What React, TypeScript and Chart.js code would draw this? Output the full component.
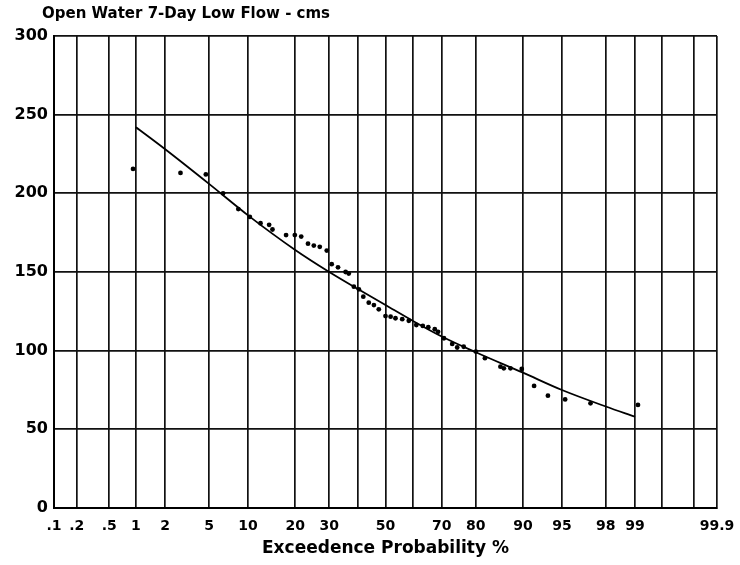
import React, { useEffect, useRef } from "react";
import { Chart, registerables } from "chart.js";

Chart.register(...registerables);

const chartTitle = "Open Water 7-Day Low Flow - cms";
const xAxisTitle = "Exceedence Probability %";

// probability grid (exceedence %) and their labels
const gridProbabilities = [0.1, 0.2, 0.5, 1, 2, 5, 10, 20, 30, 40, 50, 60, 70, 80, 90, 95, 98, 99, 99.5, 99.8, 99.9];
const gridLabels = [".1", ".2", ".5", "1", "2", "5", "10", "20", "30", "", "50", "", "70", "80", "90", "95", "98", "99", "", "", "99.9"];
const yTickValues = [0, 50, 100, 150, 200, 250, 300];

// observed annual 7-day low flows (plotting position %, flow cms)
const observedProbability = [
  0.93, 2.8, 4.7, 6.5, 8.5, 10.3, 12.2, 13.9, 14.6, 17.7, 19.9, 21.6, 23.5, 25.2, 27, 29.2,
  30.8, 32.9, 35.5, 36.6, 38.4, 40.2, 41.8, 43.8, 45.7, 47.5, 50, 51.9, 53.7, 56.2, 58.6,
  61.3, 63.6, 65.5, 67.7, 68.8, 70.7, 73.3, 74.8, 76.7, 80, 82.3, 85.8, 86.5, 87.8, 89.8,
  91.7, 93.5, 95.3, 97.2, 99.07,
];
const observedFlow = [
  215.5, 213, 212, 200, 190, 185, 181, 180, 177, 173.5, 173.5, 172.5, 168, 166.8, 166, 163.6,
  155, 153, 150, 149, 140.7, 139, 134.3, 130.5, 129, 126.3, 122, 121.6, 120.6, 120, 119,
  116.3, 115.7, 114.9, 113.6, 112, 107.9, 104.3, 102, 102.5, 99.4, 95.2, 89.8, 88.8, 88.8, 88.4,
  77.6, 71.4, 69, 66.5, 65.5,
];

// fitted frequency curve
const fittedProbability = [1, 2, 5, 10, 20, 30, 40, 50, 60, 70, 80, 90, 95, 98, 99];
const fittedFlow = [242, 228, 206, 186, 164, 150, 139, 129, 119, 109, 99, 86, 75, 64.5, 58];

// inverse standard normal CDF (probability-paper axis transform)
function probit(p: number): number {
  const a = [-3.969683028665376e1, 2.209460984245205e2, -2.759285104469687e2, 1.38357751867269e2, -3.066479806614716e1, 2.506628277459239];
  const b = [-5.447609879822406e1, 1.615858368580409e2, -1.556989798598866e2, 6.680131188771972e1, -1.328068155288572e1];
  const c = [-7.784894002430293e-3, -3.223964580411365e-1, -2.400758277161838, -2.549732539343734, 4.374664141464968, 2.938163982698783];
  const d = [7.784695709041462e-3, 3.224671290700398e-1, 2.445134137142996, 3.754408661907416];
  const pl = 0.02425;
  if (p < pl) {
    const q = Math.sqrt(-2 * Math.log(p));
    return (((((c[0] * q + c[1]) * q + c[2]) * q + c[3]) * q + c[4]) * q + c[5]) / ((((d[0] * q + d[1]) * q + d[2]) * q + d[3]) * q + 1);
  }
  if (p <= 1 - pl) {
    const q = p - 0.5;
    const r = q * q;
    return ((((((a[0] * r + a[1]) * r + a[2]) * r + a[3]) * r + a[4]) * r + a[5]) * q) / (((((b[0] * r + b[1]) * r + b[2]) * r + b[3]) * r + b[4]) * r + 1);
  }
  const q = Math.sqrt(-2 * Math.log(1 - p));
  return -(((((c[0] * q + c[1]) * q + c[2]) * q + c[3]) * q + c[4]) * q + c[5]) / ((((d[0] * q + d[1]) * q + d[2]) * q + d[3]) * q + 1);
}
const z = (pct: number) => probit(pct / 100);

const FONT = "'DejaVu Sans', Verdana, sans-serif";

const titlePlugin = {
  id: "leftTitle",
  afterDraw(chart: any) {
    const ctx = chart.ctx;
    ctx.save();
    ctx.font = `bold 15px ${FONT}`;
    ctx.fillStyle = "#000";
    ctx.textAlign = "left";
    ctx.textBaseline = "middle";
    ctx.fillText(chartTitle, 42, 14);
    ctx.restore();
  },
};

export default function App() {
  const canvasRef = useRef<HTMLCanvasElement | null>(null);

  useEffect(() => {
    if (!canvasRef.current) return;
    const chart = new Chart(canvasRef.current, {
      type: "scatter",
      data: {
        datasets: [
          {
            label: "Observed",
            data: observedProbability.map((p, i) => ({ x: z(p), y: observedFlow[i] })),
            showLine: false,
            pointRadius: 2.4,
            pointHoverRadius: 2.4,
            pointBackgroundColor: "#000",
            pointBorderWidth: 0,
            borderColor: "#000",
          },
          {
            label: "Fitted",
            data: fittedProbability.map((p, i) => ({ x: z(p), y: fittedFlow[i] })),
            showLine: true,
            pointRadius: 0,
            borderColor: "#000",
            borderWidth: 1.8,
            cubicInterpolationMode: "monotone",
          } as any,
        ],
      },
      options: {
        animation: false,
        responsive: true,
        maintainAspectRatio: false,
        layout: { padding: { top: 36, right: 23, bottom: 0, left: 0 } },
        plugins: {
          legend: { display: false },
          tooltip: { enabled: false },
          title: { display: false },
        },
        scales: {
          x: {
            type: "linear",
            min: z(0.1),
            max: z(99.9),
            afterBuildTicks: (scale: any) => {
              scale.ticks = gridProbabilities.map((p) => ({ value: z(p) }));
            },
            afterFit: (scale: any) => {
              scale.height = 57;
              scale.paddingLeft = 0;
              scale.paddingRight = 0;
            },
            ticks: {
              autoSkip: false,
              maxRotation: 0,
              padding: 10,
              color: "#000",
              font: { family: FONT, size: 14, weight: "bold" },
              callback: (_v: any, i: number) => gridLabels[i] ?? "",
            },
            grid: { color: "#111", lineWidth: 1.7, drawTicks: false },
            border: { display: true, color: "#000", width: 2 },
            title: {
              display: true,
              text: xAxisTitle,
              color: "#000",
              font: { family: FONT, size: 17, weight: "bold" },
              padding: { top: 0, bottom: 6 },
            },
          },
          y: {
            type: "linear",
            min: 0,
            max: 300,
            afterBuildTicks: (scale: any) => {
              scale.ticks = yTickValues.map((v) => ({ value: v }));
            },
            afterFit: (scale: any) => {
              scale.width = 54;
              scale.paddingTop = 0;
              scale.paddingBottom = 0;
            },
            ticks: {
              padding: 6,
              color: "#000",
              font: { family: FONT, size: 16, weight: "bold" },
            },
            grid: { color: "#111", lineWidth: 1.7, drawTicks: false },
            border: { display: true, color: "#000", width: 2 },
          },
        },
      },
      plugins: [titlePlugin],
    } as any);
    return () => chart.destroy();
  }, []);

  return (
    <div style={{ position: "fixed", left: 0, top: 0, width: 740, height: 565, background: "#fff" }}>
      <canvas ref={canvasRef} />
    </div>
  );
}
